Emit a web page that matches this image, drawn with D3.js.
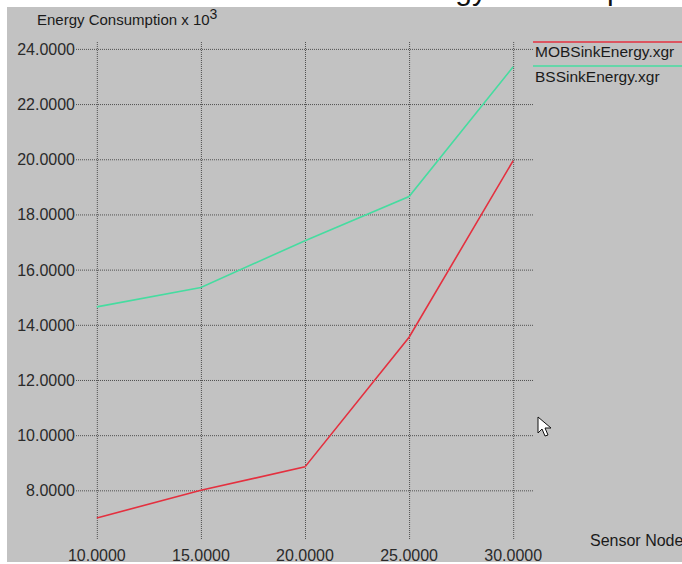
<!DOCTYPE html>
<html>
<head>
<meta charset="utf-8">
<script src="https://cdn.jsdelivr.net/npm/d3@7"></script>
<style>
  html, body { margin: 0; padding: 0; background: #fff; overflow: hidden; }
  svg { display: block; font-family: "Liberation Sans", Arial, sans-serif; }
</style>
</head>
<body>
<script>
// Data
const sensorNodes = [10, 15, 20, 25, 30];
const mobSinkEnergy = [7.0, 8.0, 8.85, 13.55, 19.95];
const bsSinkEnergy = [14.65, 15.35, 17.05, 18.65, 23.35];
const xTicks = [10, 15, 20, 25, 30];
const yTicks = [8, 10, 12, 14, 16, 18, 20, 22, 24];
const seriesNames = ["MOBSinkEnergy.xgr", "BSSinkEnergy.xgr"];
const seriesColors = ["#e4303f", "#46dca0"];

const w = 682;
const h = 564;

const svg = d3.select("body")
  .append("svg")
  .attr("width", w)
  .attr("height", h);

// Gray window area
svg.append("rect")
  .attr("x", 7).attr("y", 7)
  .attr("width", w - 7).attr("height", 555)
  .attr("fill", "#c2c2c2");

// Big window title, cut off at the top (only descenders show)
svg.append("text")
  .attr("x", 392)
  .attr("y", -0.5)
  .attr("font-size", "30px")
  .attr("fill", "#111")
  .text("Energy Consumption");

// Scales
const x = d3.scaleLinear().domain([9, 31]).range([76, 534]);
const y = d3.scaleLinear().domain([6.2, 24.25]).range([540, 42]);

// Grid (dotted)
const grid = svg.append("g").attr("stroke", "#505050").attr("stroke-dasharray", "1,1");
grid.selectAll("line.h")
  .data(yTicks)
  .enter()
  .append("line")
  .attr("class", "h")
  .attr("x1", x.range()[0]).attr("x2", x.range()[1])
  .attr("y1", d => y(d) + 0.5).attr("y2", d => y(d) + 0.5);
grid.selectAll("line.v")
  .data(xTicks)
  .enter()
  .append("line")
  .attr("class", "v")
  .attr("x1", d => x(d) + 0.5).attr("x2", d => x(d) + 0.5)
  .attr("y1", y.range()[1]).attr("y2", y.range()[0]);

// Tick labels
svg.append("g")
  .selectAll("text")
  .data(yTicks)
  .enter()
  .append("text")
  .attr("x", 75)
  .attr("y", d => y(d) + 6)
  .attr("text-anchor", "end")
  .attr("font-size", "16px")
  .attr("fill", "#2a2a2a")
  .text(d => d.toFixed(4));

svg.append("g")
  .selectAll("text")
  .data(xTicks)
  .enter()
  .append("text")
  .attr("x", d => x(d))
  .attr("y", 561)
  .attr("text-anchor", "middle")
  .attr("font-size", "16px")
  .attr("fill", "#2a2a2a")
  .text(d => d.toFixed(4));

// Axis titles
const yTitle = svg.append("text")
  .attr("x", 37)
  .attr("y", 25)
  .attr("font-size", "15px")
  .attr("fill", "#1a1a1a")
  .text("Energy Consumption x 10");
yTitle.append("tspan")
  .attr("dy", -6)
  .attr("font-size", "14px")
  .text("3");

svg.append("text")
  .attr("x", 590)
  .attr("y", 546)
  .attr("font-size", "16px")
  .attr("fill", "#1a1a1a")
  .text("Sensor Nodes");

// Series lines
const line = d3.line()
  .x((d, i) => x(sensorNodes[i]))
  .y(d => y(d));

[mobSinkEnergy, bsSinkEnergy].forEach((series, i) => {
  svg.append("path")
    .datum(series)
    .attr("d", line)
    .attr("fill", "none")
    .attr("stroke", seriesColors[i])
    .attr("stroke-width", 1.6);
});

// Legend
const legend = svg.append("g");
seriesNames.forEach((name, i) => {
  legend.append("line")
    .attr("x1", 533).attr("x2", w)
    .attr("y1", 42 + i * 24).attr("y2", 42 + i * 24)
    .attr("stroke", seriesColors[i])
    .attr("stroke-width", 1.6);
  legend.append("text")
    .attr("x", 535)
    .attr("y", 57 + i * 25)
    .attr("font-size", "15.5px")
    .attr("fill", "#1a1a1a")
    .text(name);
});

// Mouse pointer left in the screenshot
svg.append("path")
  .attr("d", "M538,417 L538,433 L542,429 L545,436 L548,435 L545,428 L551,428 Z")
  .attr("fill", "#fff")
  .attr("stroke", "#111")
  .attr("stroke-width", 1);
</script>
</body>
</html>
